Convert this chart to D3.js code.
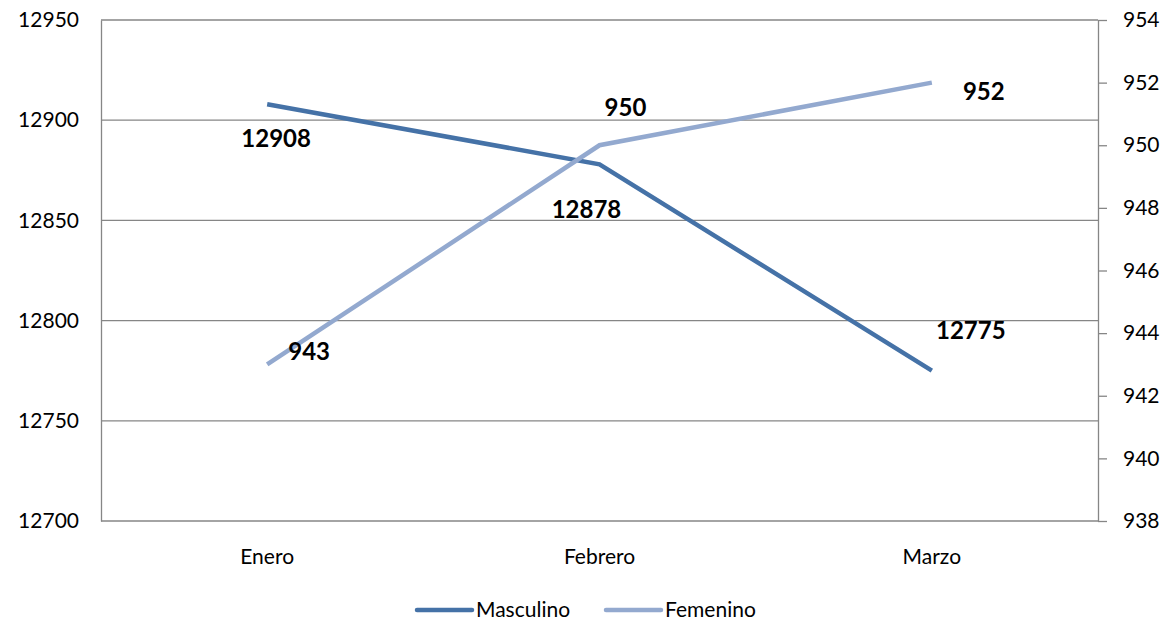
<!DOCTYPE html>
<html>
<head>
<meta charset="utf-8">
<script src="https://cdn.jsdelivr.net/npm/d3@7"></script>
<style>
  html, body { margin: 0; padding: 0; background: #fff; overflow: hidden; }
  svg { display: block; font-family: Lato, "Open Sans", sans-serif; }
</style>
</head>
<body>
<div id="chart"></div>
<script>
const months = ["Enero", "Febrero", "Marzo"];
const masculino = [12908, 12878, 12775];
const femenino = [943, 950, 952];
const leftTicks = [12700, 12750, 12800, 12850, 12900, 12950];
const rightTicks = [938, 940, 942, 944, 946, 948, 950, 952, 954];

const width = 1173, height = 624;
const margin = { top: 20, right: 75, bottom: 103, left: 101 };
const innerWidth = width - margin.left - margin.right,
  innerHeight = height - margin.top - margin.bottom;

const svg = d3.select("#chart").append("svg")
  .attr("width", width)
  .attr("height", height);

const g = svg.append("g")
  .attr("transform", `translate(${margin.left},${margin.top})`);

const xScale = d3.scalePoint()
  .domain(months)
  .range([0, innerWidth])
  .padding(0.5);

const yLeft = d3.scaleLinear().domain([12700, 12950]).range([innerHeight, 0]);
const yRight = d3.scaleLinear().domain([938, 954]).range([innerHeight, 0]);

// grid
g.append("g")
  .selectAll("line")
  .data(leftTicks)
  .join("line")
  .attr("x1", 0)
  .attr("x2", innerWidth)
  .attr("y1", d => yLeft(d))
  .attr("y2", d => yLeft(d))
  .style("stroke", "#868686")
  .style("stroke-width", 1.3);

// left axis (no tick marks)
const leftAxis = g.append("g")
  .attr("font-size", 21)
  .call(d3.axisLeft(yLeft).tickValues(leftTicks).tickSize(0).tickPadding(22).tickFormat(d3.format("d")));
leftAxis.attr("font-size", 21).attr("font-family", null);
leftAxis.select(".domain").style("stroke", "#868686").style("stroke-width", 1.3);
leftAxis.selectAll("text").style("font-size", "21px").style("fill", "#000");

// right axis
const rightAxis = g.append("g")
  .attr("transform", `translate(${innerWidth},0)`)
  .call(d3.axisRight(yRight).tickValues(rightTicks).tickSizeInner(9).tickSizeOuter(0).tickPadding(16));
rightAxis.attr("font-size", 21).attr("font-family", null);
rightAxis.select(".domain").style("stroke", "#868686").style("stroke-width", 1.3);
rightAxis.selectAll("line").style("stroke", "#868686").style("stroke-width", 1.3);
rightAxis.selectAll("text").style("font-size", "21px").style("fill", "#000");

// x labels
g.append("g")
  .selectAll("text")
  .data(months)
  .join("text")
  .attr("x", d => xScale(d))
  .attr("y", innerHeight + 43)
  .attr("text-anchor", "middle")
  .style("font-size", "21px")
  .text(d => d);

const series = [
  { name: "Masculino", values: masculino, y: yLeft, color: "#4572A7",
    offsets: [[9, 43], [-13, 54], [39, -32]] },
  { name: "Femenino", values: femenino, y: yRight, color: "#93A9CF",
    offsets: [[42, -4], [26, -29], [52, 17]] }
];

series.forEach(s => {
  const line = d3.line()
    .x((d, i) => xScale(months[i]))
    .y(d => s.y(d));

  g.append("path")
    .datum(s.values)
    .attr("d", line)
    .style("fill", "none")
    .style("stroke", s.color)
    .style("stroke-width", 4.5);

  g.append("g")
    .selectAll("text")
    .data(s.values)
    .join("text")
    .attr("x", (d, i) => xScale(months[i]) + s.offsets[i][0])
    .attr("y", (d, i) => s.y(d) + s.offsets[i][1])
    .attr("text-anchor", "middle")
    .style("font-size", "24px")
    .style("font-weight", "bold")
    .text(d => d);
});

// legend
const legend = svg.append("g")
  .attr("transform", `translate(417,610)`);

const items = legend.selectAll("g")
  .data(series)
  .join("g")
  .attr("transform", (d, i) => `translate(${i * 189},0)`);

items.append("line")
  .attr("x1", 0).attr("x2", 55)
  .style("stroke", d => d.color)
  .style("stroke-width", 4.5)
  .style("stroke-linecap", "round");

items.append("text")
  .attr("x", 59)
  .attr("y", 7)
  .style("font-size", "21px")
  .text(d => d.name);
</script>
</body>
</html>
